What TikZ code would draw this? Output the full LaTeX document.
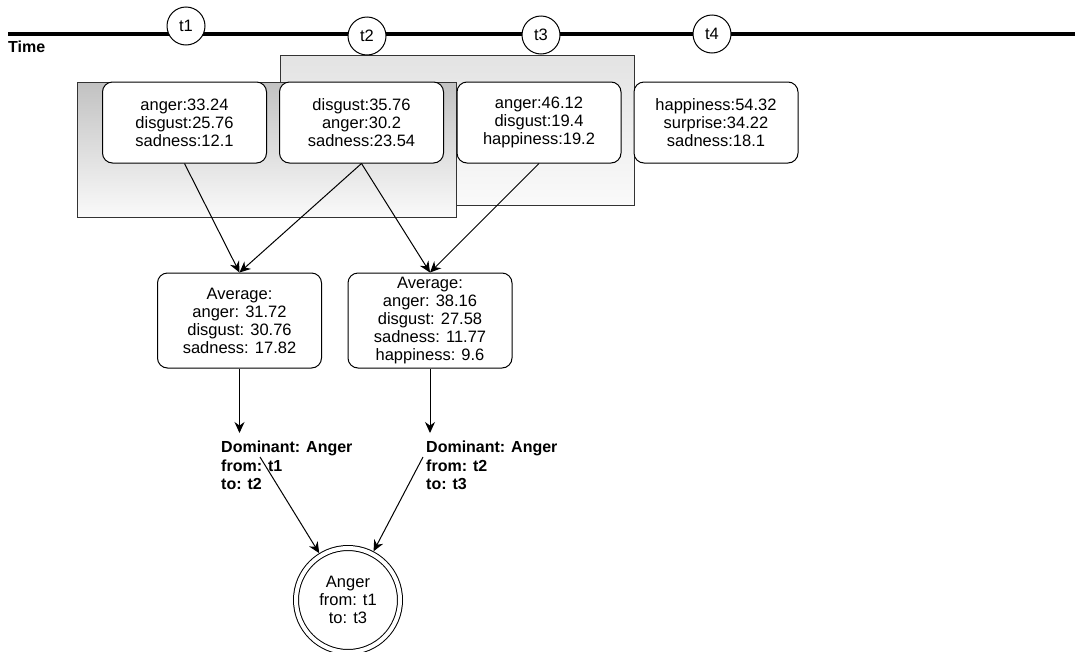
\documentclass[tikz,border=0pt]{standalone}
\usepackage{fontspec}
\setmainfont{Liberation Sans}
\usetikzlibrary{arrows.meta}

\begin{document}
\begin{tikzpicture}[x=1pt,y=-1pt,
	every node/.style={font=\fontsize{16.5}{18}\selectfont},
	tmark/.style={circle,draw,fill=white,line width=1pt,minimum size=38pt,inner sep=0pt},
	window/.style={draw=black!80,line width=1pt,anchor=north west,inner sep=0pt},
	emo/.style={draw,rounded corners=10pt,fill=white,line width=1pt,align=center,minimum width=164pt,inner sep=0pt},
	dom/.style={font=\bfseries\fontsize{16}{18.5}\selectfont,align=left,anchor=north west,inner sep=0pt},
	link/.style={->,>={Stealth[length=11pt,width=10pt]},line width=1pt}]
	\useasboundingbox (0,0) rectangle (1075,651);

	%sliding windows
	\node[window,minimum width=354pt,minimum height=150pt,top color=black!11,bottom color=black!2] (win23) at (280,55) {};
	\node[window,minimum width=379pt,minimum height=135pt,top color=black!24,bottom color=black!2] (win12) at (77,82) {};

	%time axis
	\draw[line width=4.5pt] (8,34)--(1075,34);
	\node[font=\bfseries\fontsize{16}{18}\selectfont,anchor=west,inner sep=0pt] (tlabel) at (8,47) {Time};
	\node[tmark] (t1) at (186,26) {t1};
	\node[tmark] (t2) at (367,36) {t2};
	\node[tmark] (t3) at (541,35) {t3};
	\node[tmark] (t4) at (712,34) {t4};

	%emotion scores per time step
	\node[emo,minimum height=81pt] (a1) at (184.5,122.5) {anger:33.24\\disgust:25.76\\sadness:12.1};
	\node[emo,minimum height=81pt] (a2) at (361.5,122.5) {disgust:35.76\\anger:30.2\\sadness:23.54};
	\node[emo,minimum height=81pt] (a3) at (539,122.5) {anger:46.12\\disgust:19.4\\happiness:19.2};
	\node[emo,minimum height=81pt] (a4) at (716,122.5) {happiness:54.32\\surprise:34.22\\sadness:18.1};

	%window averages
	\node[emo,minimum height=95pt] (b1) at (239.5,320.5) {Average:\\anger: 31.72\\disgust: 30.76\\sadness: 17.82};
	\node[emo,minimum height=95pt] (b2) at (430,320.5) {Average:\\anger: 38.16\\disgust: 27.58\\sadness: 11.77\\happiness: 9.6};

	\draw[link] (a1.south)--(b1.north);
	\draw[link] (a2.south)--(b1.north);
	\draw[link] (a2.south)--(b2.north);
	\draw[link] (a3.south)--(b2.north);

	%dominant emotion per window
	\node[dom] (d1) at (221,441) {Dominant: Anger\\from: t1\\to: t2};
	\node[dom] (d2) at (426,441) {Dominant: Anger\\from: t2\\to: t3};

	\draw[link,shorten >=8pt] (b1.south)--(b1.south |- d1.north);
	\draw[link,shorten >=8pt] (b2.south)--(b2.south |- d2.north);

	%merged episode
	\node[circle,draw,double,double distance=4pt,line width=1pt,minimum size=104pt,inner sep=0pt,outer sep=3pt,align=center] (anger) at (348,600) {Anger\\from: t1\\to: t3};

	\coordinate (d1out) at (260,457);
	\coordinate (d2out) at (423,457);
	\draw[link] (d1out)--(anger);
	\draw[link] (d2out)--(anger);
\end{tikzpicture}
\end{document}
